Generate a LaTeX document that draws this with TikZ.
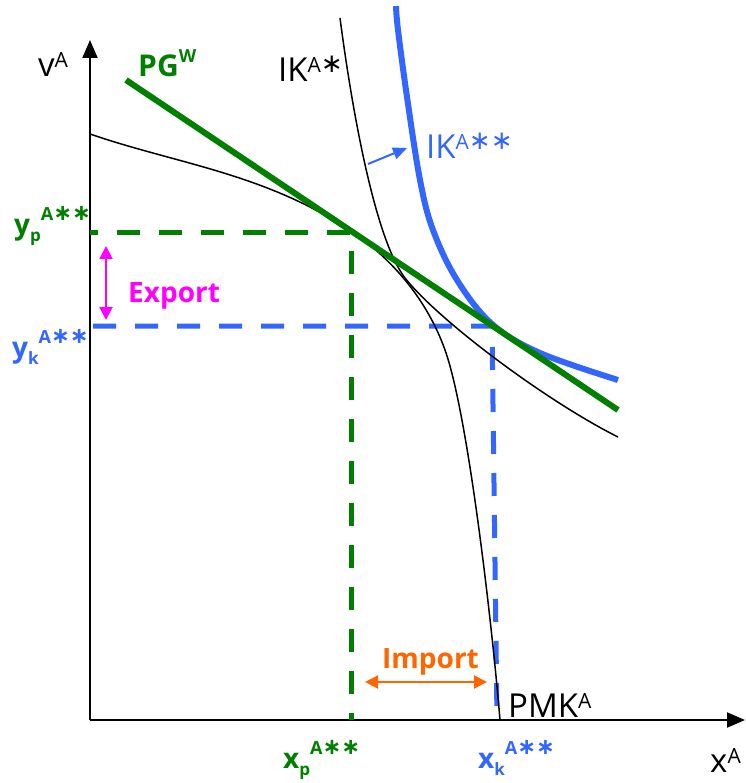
\documentclass[tikz,border=0pt]{standalone}
\usepackage{fontspec}
\setmainfont{Open Sans}
\newfontfamily\djv{DejaVu Sans}
\usetikzlibrary{arrows.meta}
\definecolor{pgreen}{HTML}{007F00}
\definecolor{kblue}{HTML}{3366FF}
\definecolor{exmag}{HTML}{FF00FF}
\definecolor{imorange}{HTML}{FF6600}
\definecolor{dark}{HTML}{000000}
\newcommand{\astk}{{\djv\scalebox{1.25}{\char"2217}}}
\newcommand{\supr}[1]{\raisebox{9pt}{\fontsize{21}{21}\selectfont #1}}
\newcommand{\supb}[1]{\raisebox{14pt}{\fontsize{18}{18}\selectfont\bfseries #1}}
\newcommand{\subb}[1]{\raisebox{-7pt}{\fontsize{17}{17}\selectfont\bfseries #1}}
\tikzset{
  txtr/.style={inner sep=0pt, anchor=base west, font=\fontsize{33}{36}\selectfont},
  txtb/.style={inner sep=0pt, anchor=base west, font=\fontsize{28}{32}\selectfont\bfseries},
  axis/.style={-{Triangle[length=18pt,width=15pt]}, line width=2pt, draw=dark},
  curve/.style={line width=1.5pt, draw=dark},
  thickcurve/.style={line width=6pt},
  guide/.style={line width=5pt, dash pattern=on 23pt off 19pt},
  span/.style={{Triangle[length=13pt,width=13pt]}-{Triangle[length=13pt,width=13pt]}, line width=2pt}
}
\begin{document}
\begin{tikzpicture}[x=1pt, y=-1pt]
  \useasboundingbox (0,0) rectangle (745,783);
  % axes
  \coordinate (O) at (90,720);
  \coordinate (ytop) at (90,40);
  \coordinate (xend) at (745,720);
  \draw[axis] (O) -- (ytop);
  \draw[axis] (O) -- (xend);
  % points of production and consumption
  \coordinate (P) at (351,233);
  \coordinate (yp) at (90,233);
  \coordinate (xp) at (351,720);
  \coordinate (K) at (492,326);
  \coordinate (yk) at (93,326);
  \coordinate (xk) at (497,720);
  \draw[guide, dash phase=15pt, pgreen] (yp) -- (P) -- (xp);
  \draw[guide, kblue] (yk) -- (K) -- (xk);
  % transformation curve
  \coordinate (pmkA) at (90,134);
  \coordinate (pmkB) at (351,231);
  \coordinate (pmkC) at (445,350);
  \coordinate (pmkD) at (500,720);
  \draw[curve] (pmkA) .. controls (177,164) and (264,173) .. (pmkB)
    .. controls (394,260) and (428,302) .. (pmkC)
    .. controls (468,414) and (492,624) .. (pmkD);
  % indifference curves
  \coordinate (iksA) at (340,18);
  \coordinate (iksB) at (405,278);
  \coordinate (iksC) at (618,437);
  \draw[curve] (iksA) .. controls (352,110) and (375,239) .. (iksB)
    .. controls (440,322) and (548,402) .. (iksC);
  \draw[thickcurve, kblue] plot[smooth, tension=0.6] coordinates {(396,6) (398,30) (407,97) (420,180) (433,230) (457,280) (492,324) (540,353) (618,380)};
  % world price line
  \coordinate (pgA) at (126,80);
  \coordinate (pgB) at (618,410);
  \draw[thickcurve, pgreen] (pgA) -- (pgB);
  % shift of the indifference curve
  \coordinate (shA) at (368,164);
  \coordinate (shB) at (407,148);
  \draw[-{Triangle[length=14pt,width=12pt]}, line width=2pt, kblue] (shA) -- (shB);
  % export and import
  \coordinate (exT) at (106,246);
  \coordinate (exB) at (106,320);
  \draw[span, exmag] (exT) -- (exB);
  \coordinate (imL) at (365,682);
  \coordinate (imR) at (487,682);
  \draw[span, imorange] (imL) -- (imR);
  % labels
  \node[txtr] (vlab) at (38,77) {v\supr{A}};
  \node[txtb, pgreen, font=\fontsize{30}{32}\selectfont\bfseries] (pglab) at (138,77) {PG\supb{W}};
  \node[txtr] (ikslab) at (278,82) {IK\supr{A\astk}};
  \node[txtr, kblue] (ikklab) at (426,159) {IK\supr{A\astk\astk}};
  \node[txtb, pgreen] (yplab) at (14,235) {y\subb{p}\supb{A\astk\astk}};
  \node[txtb, kblue] (yklab) at (12,357) {y\subb{k}\supb{A\astk\astk}};
  \node[txtb, exmag] (exlab) at (128,302) {Export};
  \node[txtb, imorange] (imlab) at (382,668) {Import};
  \node[txtb, pgreen] (xplab) at (283,768) {x\subb{p}\supb{A\astk\astk}};
  \node[txtb, kblue] (xklab) at (478,768) {x\subb{k}\supb{A\astk\astk}};
  \node[txtr] (xlab) at (710,772) {x\supr{A}};
  \node[txtr] (pmklab) at (508,717) {PMK\supr{A}};
\end{tikzpicture}
\end{document}
